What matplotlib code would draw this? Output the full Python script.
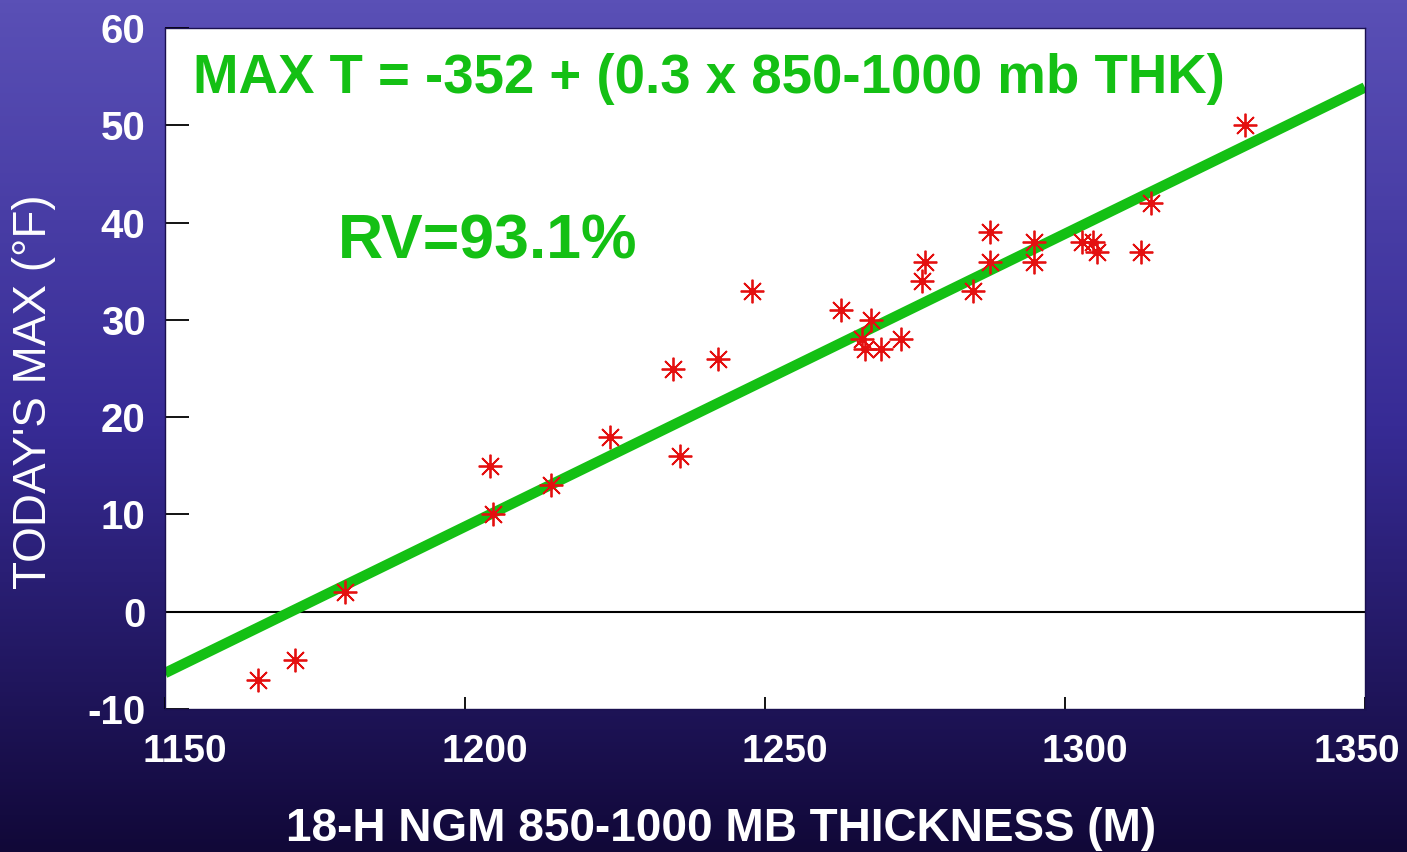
import numpy as np
import matplotlib.pyplot as plt
from matplotlib.colors import LinearSegmentedColormap
import matplotlib.transforms as mtransforms

plt.rcParams['font.family'] = ['Liberation Sans', 'DejaVu Sans']
plt.rcParams['axes.unicode_minus'] = False

# 850-1000 mb thickness (m) vs observed max temperature (F)
thickness = [1165.5, 1171.7, 1180, 1204.2, 1204.7, 1214.3, 1224.2, 1234.7, 1235.8,
             1242.2, 1247.8, 1262.7, 1266.1, 1266.7, 1267.6, 1269.4, 1272.7, 1276.6,
             1276.2, 1284.7, 1287.5, 1287.5, 1294.9, 1294.9, 1302.8, 1304.7, 1305.4,
             1312.7, 1314.4, 1330]
max_temp = [-7, -5, 2, 15, 10, 13, 18, 25, 16,
            26, 33, 31, 28, 27, 30, 27, 28, 36,
            34, 33, 39, 36, 38, 36, 38, 38, 37,
            37, 42, 50]

# regression line as drawn
fit_thk = [1150, 1350]
fit_max = [-6.3, 53.9]

x_ticks = [1150, 1200, 1250, 1300, 1350]
y_ticks = [-10, 0, 10, 20, 30, 40, 50, 60]

fig = plt.figure(figsize=(14.07, 8.52), dpi=100)

# slide background gradient
bg = fig.add_axes([0, 0, 1, 1], zorder=-1)
cmap = LinearSegmentedColormap.from_list('slide', [(0.0, '#110838'), (0.5, '#372b95'), (1.0, '#5a50b6')])
grad = np.linspace(0, 1, 256).reshape(-1, 1)
bg.imshow(grad, cmap=cmap, aspect='auto', origin='lower', extent=[0, 1, 0, 1])
bg.axis('off')

ax = fig.add_axes([0.1173, 0.1678, 0.8528, 0.7993])
ax.set_facecolor('white')
ax.set_xlim(1150, 1350)
ax.set_ylim(-10, 60)

ax.axhline(0, color='black', lw=1.5, zorder=1)
ax.plot(fit_thk, fit_max, color='#14c014', lw=7.5, solid_capstyle='butt', zorder=2)
ax.plot(thickness, max_temp, linestyle='none', marker=(8, 2, 0), markersize=17,
        markeredgewidth=1.3, color='#e41010', zorder=3)
ax.plot(thickness, max_temp, linestyle='none', marker='o', markersize=4,
        color='#e41010', zorder=3)

ax.set_xticks(x_ticks)
ax.set_yticks(y_ticks)
ax.tick_params(axis='x', direction='in', length=9, width=1.3, color='black', pad=18,
               labelsize=28, labelcolor='white')
ax.tick_params(axis='y', direction='in', length=17, width=1.3, color='black', pad=14,
               labelsize=29, labelcolor='white')
for lab in ax.get_xticklabels() + ax.get_yticklabels():
    lab.set_fontweight('bold')

# x labels sit a little right of their ticks
for i, lab in enumerate(ax.get_xticklabels()):
    dx = 20 if i < len(x_ticks) - 1 else -8
    lab.set_transform(lab.get_transform() + mtransforms.ScaledTranslation(dx / 100, 0, fig.dpi_scale_trans))

for s in ax.spines.values():
    s.set_color('#1a1050')
    s.set_linewidth(1)

ax.text(0.0233, 0.9046, 'MAX T = -352 + (0.3 x 850-1000 mb THK)', transform=ax.transAxes,
        color='#14c014', fontsize=39.3, fontweight='bold', ha='left', va='baseline')
ax.text(0.144, 0.662, 'RV=93.1%', transform=ax.transAxes,
        color='#14c014', fontsize=45, fontweight='bold', ha='left', va='baseline')

fig.text(34 / 1407, 1 - 392 / 852, "TODAY'S MAX (°F)", rotation=90, color='white',
         fontsize=33, ha='center', va='center')
fig.text(721 / 1407, 1 - 829 / 852, '18-H NGM 850-1000 MB THICKNESS (M)', color='white',
         fontsize=33, fontweight='bold', ha='center', va='center')

fig.savefig('out.png', dpi=100)
